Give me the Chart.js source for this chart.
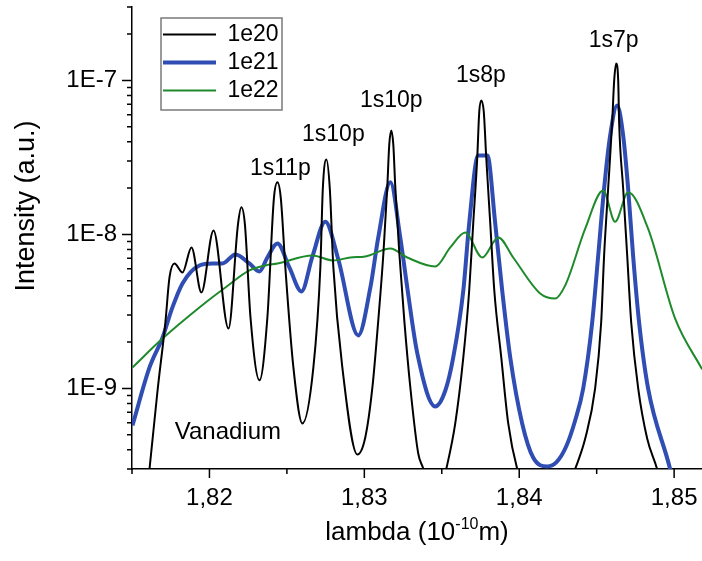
<!DOCTYPE html>
<html>
<head>
<meta charset="utf-8">
<script src="https://cdn.jsdelivr.net/npm/chart.js@4.4.1/dist/chart.umd.min.js"></script>
<style>
html,body{margin:0;padding:0;background:#ffffff;}
canvas{display:block;}
</style>
</head>
<body>
<canvas id="c" width="702" height="561"></canvas>
<script>
// ---------------- data ----------------
const seriesLabels = ['1e20', '1e21', '1e22'];

const lambda20 = [1.81503, 1.81613, 1.81665, 1.81716, 1.81742, 1.81774, 1.81826, 1.81884, 1.81948, 1.82026,
  1.82123, 1.82184, 1.82206, 1.82229, 1.82265, 1.82323, 1.82374, 1.82416, 1.82439, 1.82461,
  1.82490, 1.82542, 1.82600, 1.82671, 1.82716, 1.82732, 1.82755, 1.82777, 1.82800, 1.82858,
  1.82955, 1.83006, 1.83052, 1.83090, 1.83123, 1.83148, 1.83161, 1.83174, 1.83187, 1.83200,
  1.83226, 1.83258, 1.83297, 1.83348, 1.83381, 1.83452, 1.83529, 1.83587, 1.83639, 1.83677,
  1.83703, 1.83729, 1.83742, 1.83755, 1.83771, 1.83787, 1.83813, 1.83839, 1.83884, 1.83929,
  1.83987, 1.84174, 1.84361, 1.84426, 1.84490, 1.84529, 1.84548, 1.84574, 1.84600, 1.84613,
  1.84626, 1.84639, 1.84645, 1.84671, 1.84697, 1.84723, 1.84768, 1.84826, 1.84890, 1.85180];
const int20 = [3.0e-11, 3.0e-10, 9.7e-10, 2.72e-9, 5.26e-9, 6.48e-9, 5.67e-9, 8.24e-9, 4.20e-9, 1.06e-8,
  2.45e-9, 1.16e-8, 1.50e-8, 1.16e-8, 2.89e-9, 1.13e-9, 2.89e-9, 1.71e-8, 2.18e-8, 1.71e-8,
  6.11e-9, 1.37e-9, 5.93e-10, 1.37e-9, 6.11e-9, 1.99e-8, 3.07e-8, 1.99e-8, 6.11e-9, 1.37e-9,
  3.73e-10, 4.81e-10, 1.015e-9, 2.77e-9, 7.53e-9, 2.02e-8, 3.84e-8, 4.73e-8, 3.84e-8, 2.02e-8,
  7.53e-9, 2.77e-9, 1.015e-9, 3.78e-10, 3.0e-10, 1.5e-10, 3.0e-10, 5.93e-10, 1.59e-9, 4.33e-9,
  1.18e-8, 3.16e-8, 6.29e-8, 7.42e-8, 6.29e-8, 3.16e-8, 1.18e-8, 4.33e-9, 1.59e-9, 5.93e-10,
  3.0e-10, 1.0e-10, 3.0e-10, 4.73e-10, 1.0e-9, 2.68e-9, 7.31e-9, 1.99e-8, 5.34e-8, 1.0e-7,
  1.29e-7, 1.0e-7, 5.34e-8, 1.99e-8, 7.31e-9, 2.68e-9, 1.0e-9, 4.73e-10, 3.0e-10, 2.0e-11];

const lambda21 = [1.81503, 1.81613, 1.81697, 1.81761, 1.81826, 1.81935, 1.82019, 1.82084, 1.82168, 1.82258,
  1.82323, 1.82374, 1.82439, 1.82516, 1.82594, 1.82665, 1.82748, 1.82832, 1.82961, 1.83039,
  1.83090, 1.83168, 1.83232, 1.83277, 1.83342, 1.83458, 1.83523, 1.83574, 1.83639, 1.83677,
  1.83735, 1.83794, 1.83845, 1.83890, 1.83942, 1.84019, 1.84090, 1.84181, 1.84239, 1.84303,
  1.84361, 1.84413, 1.84471, 1.84510, 1.84548, 1.84587, 1.84632, 1.84671, 1.84703, 1.84735,
  1.84774, 1.84832, 1.84974, 1.85100];
const int21 = [5.75e-10, 1.37e-9, 2.14e-9, 3.36e-9, 4.81e-9, 6.29e-9, 6.48e-9, 6.48e-9, 7.42e-9, 6.48e-9,
  5.75e-9, 7.09e-9, 8.75e-9, 6.11e-9, 4.27e-9, 7.20e-9, 1.21e-8, 6.88e-9, 2.21e-9, 4.53e-9,
  9.56e-9, 2.18e-8, 9.56e-9, 4.53e-9, 1.69e-9, 7.64e-10, 9.7e-10, 1.59e-9, 4.33e-9, 1.18e-8,
  3.26e-8, 3.26e-8, 1.18e-8, 4.33e-9, 1.59e-9, 5.93e-10, 3.56e-10, 3.12e-10, 3.31e-10, 4.20e-10,
  6.20e-10, 1.0e-9, 2.68e-9, 7.31e-9, 1.99e-8, 4.39e-8, 6.88e-8, 4.39e-8, 1.99e-8, 7.31e-9,
  2.68e-9, 1.0e-9, 3.0e-10, 8.0e-11];

const lambda22 = [1.81503, 1.81697, 1.81935, 1.82103, 1.82258, 1.82361, 1.82439, 1.82665, 1.82800, 1.82910,
  1.83006, 1.83168, 1.83277, 1.83458, 1.83555, 1.83652, 1.83761, 1.83865, 1.83961, 1.84135,
  1.84232, 1.84297, 1.84426, 1.84542, 1.84619, 1.84703, 1.84832, 1.85006, 1.85181];
const int22 = [1.37e-9, 2.11e-9, 3.36e-9, 4.53e-9, 5.84e-9, 6.29e-9, 6.48e-9, 7.31e-9, 6.78e-9, 7.09e-9,
  7.20e-9, 8.12e-9, 7.09e-9, 6.20e-9, 8.24e-9, 1.03e-8, 7.09e-9, 9.57e-9, 7.09e-9, 4.14e-9,
  3.84e-9, 4.67e-9, 1.09e-8, 1.93e-8, 1.21e-8, 1.88e-8, 1.09e-8, 2.85e-9, 1.33e-9];

const xTickValues = [1.82, 1.83, 1.84, 1.85];
const xTickLabels = ['1,82', '1,83', '1,84', '1,85'];
const yTickValues = [1e-9, 1e-8, 1e-7];
const yTickLabels = ['1E-9', '1E-8', '1E-7'];

const peakLabels = ['1s11p', '1s10p', '1s10p', '1s8p', '1s7p'];
const peakLabelX = [1.82458, 1.82800, 1.83174, 1.83752, 1.84610];
const peakLabelY = [2.68e-8, 4.46e-8, 7.42e-8, 1.078e-7, 1.82e-7];
const noteLabel = 'Vanadium';
const noteX = 1.82119;
const noteY = 5.18e-10;

const yTitle = 'Intensity (a.u.)';
const xTitleParts = ['lambda (10', '-10', 'm)'];

// ---------------- chart ----------------
const FONT = "'Liberation Sans', Arial, sans-serif";
const pts = (xs, ys) => xs.map((x, i) => ({x: x, y: ys[i]}));

function isMajorY(v) {
  return yTickValues.findIndex(t => Math.abs(Math.log10(v) - Math.log10(t)) < 1e-6);
}
function isMajorX(v) {
  return xTickValues.findIndex(t => Math.abs(v - t) < 1e-9);
}

const tickMarks = {
  id: 'tickMarks',
  afterDraw(chart) {
    const ctx = chart.ctx, ca = chart.chartArea;
    const xs = chart.scales.x, ys = chart.scales.y;
    ctx.save();
    ctx.strokeStyle = '#000';
    ctx.lineWidth = 1.5;
    ctx.beginPath();
    xs.ticks.forEach(t => {
      const p = xs.getPixelForValue(t.value);
      const len = isMajorX(t.value) >= 0 ? 9 : 5;
      ctx.moveTo(p, ca.bottom); ctx.lineTo(p, ca.bottom + len);
    });
    ys.ticks.forEach(t => {
      const p = ys.getPixelForValue(t.value);
      const len = isMajorY(t.value) >= 0 ? 10 : 5;
      ctx.moveTo(ca.left, p); ctx.lineTo(ca.left - len, p);
    });
    ctx.stroke();
    ctx.restore();
  }
};

const textLayer = {
  id: 'textLayer',
  afterLayout(chart) {
    const L = chart.legend;
    if (L) {
      const dx = 158 - L.left, dy = 18 - L.top;
      L.left += dx; L.right += dx; L.top += dy; L.bottom += dy;
    }
  },
  afterDraw(chart) {
    const ctx = chart.ctx, ca = chart.chartArea;
    const xs = chart.scales.x, ys = chart.scales.y;
    ctx.save();
    ctx.fillStyle = '#000';
    // peak annotations
    ctx.font = '23px ' + FONT;
    ctx.textAlign = 'center';
    ctx.textBaseline = 'middle';
    peakLabels.forEach((s, i) => {
      ctx.fillText(s, xs.getPixelForValue(peakLabelX[i]), ys.getPixelForValue(peakLabelY[i]));
    });
    ctx.font = '24px ' + FONT;
    ctx.fillText(noteLabel, xs.getPixelForValue(noteX), ys.getPixelForValue(noteY));

    // legend frame
    const L = chart.legend;
    ctx.strokeStyle = '#7a7a7a';
    ctx.lineWidth = 1.5;
    ctx.strokeRect(L.left + 3, L.top, 121, 92);

    // y title
    ctx.save();
    ctx.font = '27px ' + FONT;
    ctx.translate(27, 206);
    ctx.rotate(-Math.PI / 2);
    ctx.textAlign = 'center';
    ctx.textBaseline = 'middle';
    ctx.fillText(yTitle, 0, 0);
    ctx.restore();

    // x title with superscript
    const mainFont = '26px ' + FONT, supFont = '16px ' + FONT;
    ctx.font = mainFont; const w0 = ctx.measureText(xTitleParts[0]).width;
    const w2 = ctx.measureText(xTitleParts[2]).width;
    ctx.font = supFont; const w1 = ctx.measureText(xTitleParts[1]).width;
    const total = w0 + w1 + w2;
    let x = (ca.left + ca.right) / 2 - total / 2;
    const base = 540;
    ctx.textAlign = 'left';
    ctx.textBaseline = 'alphabetic';
    ctx.font = mainFont; ctx.fillText(xTitleParts[0], x, base); x += w0;
    ctx.font = supFont; ctx.fillText(xTitleParts[1], x, base - 11); x += w1;
    ctx.font = mainFont; ctx.fillText(xTitleParts[2], x, base);
    ctx.restore();
  }
};

const colors = ['#000000', '#2f4db3', '#1f8a2c'];
const widths = [2, 4, 2];
const orders = [0, 2, 1];
const dataSets = [pts(lambda20, int20), pts(lambda21, int21), pts(lambda22, int22)];

new Chart(document.getElementById('c'), {
  type: 'line',
  data: {
    datasets: seriesLabels.map((lab, i) => ({
      label: lab,
      data: dataSets[i],
      borderColor: colors[i],
      backgroundColor: colors[i],
      borderWidth: widths[i],
      pointRadius: 0,
      pointStyle: 'line',
      fill: false,
      cubicInterpolationMode: 'monotone',
      clip: 0,
      order: orders[i]
    }))
  },
  options: {
    responsive: false,
    animation: false,
    devicePixelRatio: 1,
    layout: {padding: {top: 7, left: 0, right: 0, bottom: 0}},
    plugins: {
      tooltip: {enabled: false},
      legend: {
        position: 'chartArea',
        align: 'start',
        labels: {
          usePointStyle: true,
          pointStyle: 'line',
          pointStyleWidth: 53,
          padding: 5,
          color: '#000',
          font: {family: FONT, size: 23},
          sort: (a, b) => a.datasetIndex - b.datasetIndex
        }
      }
    },
    scales: {
      x: {
        type: 'linear',
        min: 1.815,
        max: 1.8518,
        grid: {display: true, drawOnChartArea: false, drawTicks: false},
        border: {display: true, color: '#000', width: 1.5},
        ticks: {
          autoSkip: false,
          maxRotation: 0,
          padding: 15,
          color: '#000',
          font: {family: FONT, size: 24},
          callback: (v) => { const k = isMajorX(v); return k >= 0 ? xTickLabels[k] : ''; }
        },
        afterBuildTicks: (s) => {
          const vals = [];
          xTickValues.forEach(v => {
            const m = Number((v - 0.005).toFixed(4));
            if (m >= s.min - 1e-9) vals.push(m);
            vals.push(v);
          });
          s.ticks = vals.filter(v => v <= s.max + 1e-9).map(v => ({value: v}));
        },
        afterFit: (s) => { s.height = 92; s.paddingLeft = 0; s.paddingRight = 0; }
      },
      y: {
        type: 'logarithmic',
        min: 3e-10,
        max: 3e-7,
        grid: {display: true, drawOnChartArea: false, drawTicks: false},
        border: {display: true, color: '#000', width: 1.5},
        ticks: {
          autoSkip: false,
          padding: 15,
          color: '#000',
          font: {family: FONT, size: 24},
          callback: (v) => { const k = isMajorY(v); return k >= 0 ? yTickLabels[k] : ''; }
        },
        afterBuildTicks: (s) => {
          const vals = [];
          for (let e = -10; e <= -7; e++) {
            for (let m = 1; m <= 9; m++) {
              const v = Number((m * Math.pow(10, e)).toPrecision(6));
              if (v >= s.min * (1 - 1e-9) && v <= s.max * (1 + 1e-9)) vals.push(v);
            }
          }
          s.ticks = vals.map(v => ({value: v}));
        },
        afterFit: (s) => { s.width = 132; s.paddingTop = 0; s.paddingBottom = 0; }
      }
    }
  },
  plugins: [tickMarks, textLayer]
});
</script>
</body>
</html>
